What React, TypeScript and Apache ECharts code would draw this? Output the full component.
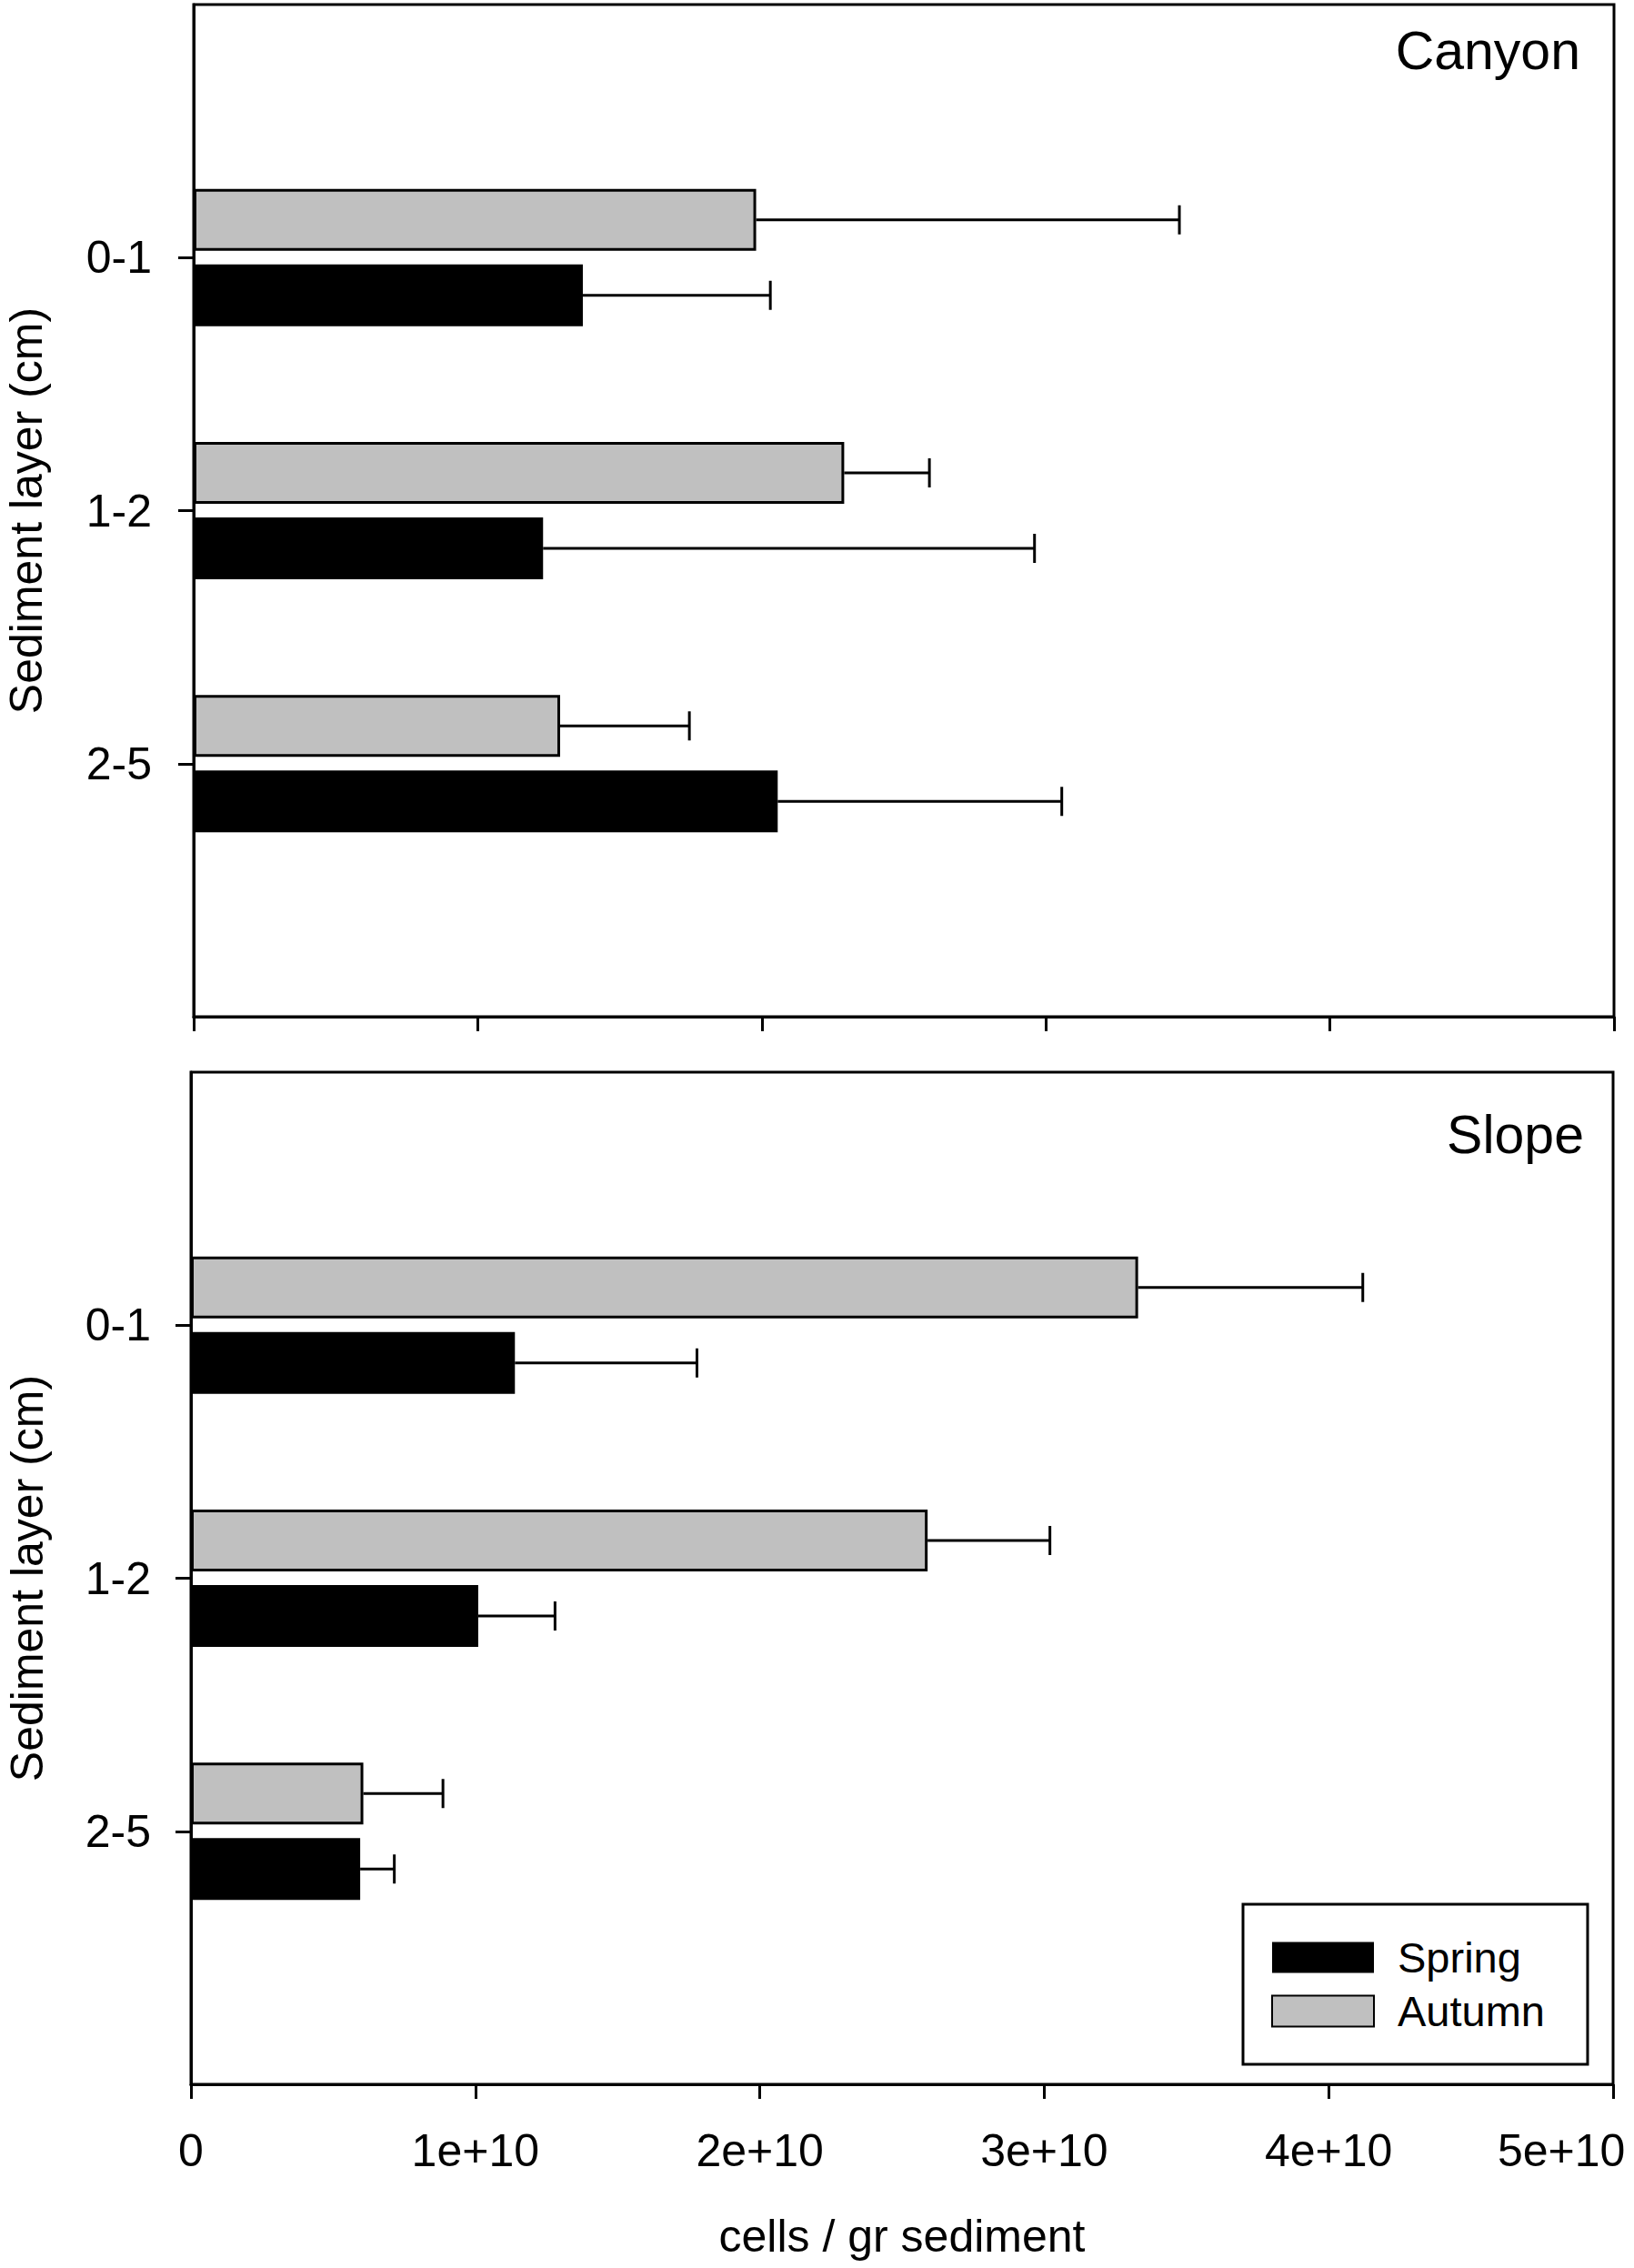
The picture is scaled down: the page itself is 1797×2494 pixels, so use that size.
import React, { useEffect, useRef } from "react";
import * as echarts from "echarts";

const categories = ["0-1", "1-2", "2-5"];
const canyonSpring = [1.37e10, 1.23e10, 2.056e10];
const canyonSpringSD = [0.66e10, 1.73e10, 1.0e10];
const canyonAutumn = [1.98e10, 2.29e10, 1.29e10];
const canyonAutumnSD = [1.49e10, 0.3e10, 0.455e10];
const slopeSpring = [1.139e10, 1.01e10, 0.595e10];
const slopeSpringSD = [0.64e10, 0.27e10, 0.12e10];
const slopeAutumn = [3.33e10, 2.59e10, 0.606e10];
const slopeAutumnSD = [0.79e10, 0.43e10, 0.28e10];
const xTicks = [0, 1e10, 2e10, 3e10, 4e10, 5e10];
const xTickLabels = ["0", "1e+10", "2e+10", "3e+10", "4e+10", "5e+10"];

const FONT = "'Liberation Sans', Arial, Helvetica, sans-serif";
const axisCats = ["", ...categories, ""];

function barSeries(name: string, vals: number[], color: string, gi: number, border: boolean) {
  return {
    type: "bar",
    name,
    xAxisIndex: gi,
    yAxisIndex: gi,
    barWidth: 68,
    barGap: "22%",
    data: vals.map((v, i) => [v, i + 1]),
    itemStyle: {
      color,
      borderColor: "#000",
      borderWidth: border ? 3 : 0,
    },
    silent: true,
  };
}

function errSeries(name: string, vals: number[], sds: number[], offset: number, gi: number) {
  return {
    type: "custom",
    name,
    xAxisIndex: gi,
    yAxisIndex: gi,
    silent: true,
    z: 3,
    encode: { x: [0, 2], y: 1 },
    data: vals.map((v, i) => [v, i + 1, v + sds[i]]),
    renderItem: (params: any, api: any) => {
      const s = api.coord([api.value(0), api.value(1)]);
      const e = api.coord([api.value(2), api.value(1)]);
      const y = s[1] + offset;
      return {
        type: "group",
        children: [
          { type: "line", shape: { x1: s[0], y1: y, x2: e[0], y2: y }, style: { stroke: "#000", lineWidth: 3 } },
          { type: "line", shape: { x1: e[0], y1: y - 16, x2: e[0], y2: y + 16 }, style: { stroke: "#000", lineWidth: 3 } },
        ],
      };
    },
  };
}

function yAxis(gi: number, margin: number, nameGap: number) {
  return {
    type: "category",
    gridIndex: gi,
    data: axisCats,
    inverse: true,
    boundaryGap: false,
    name: "Sediment layer (cm)",
    nameLocation: "middle",
    nameGap,
    nameTextStyle: { fontFamily: FONT, fontSize: 50, color: "#000" },
    axisLine: { show: true, lineStyle: { color: "#000", width: 3 } },
    axisTick: {
      show: true,
      length: 17,
      interval: (i: number, v: string) => v !== "",
      lineStyle: { color: "#000", width: 3 },
    },
    axisLabel: {
      interval: (i: number, v: string) => v !== "",
      fontFamily: FONT,
      fontSize: 50,
      color: "#000",
      margin,
    },
    splitLine: { show: false },
  };
}

function xAxis(gi: number, showLabels: boolean) {
  const maxV = xTicks[xTicks.length - 1];
  return {
    type: "value",
    gridIndex: gi,
    min: xTicks[0],
    max: maxV,
    interval: xTicks[1] - xTicks[0],
    name: showLabels ? "cells / gr sediment" : "",
    nameLocation: "middle",
    nameGap: 142,
    nameTextStyle: { fontFamily: FONT, fontSize: 50, color: "#000" },
    axisLine: { show: true, lineStyle: { color: "#000", width: 3 } },
    axisTick: { show: true, length: 16, lineStyle: { color: "#000", width: 3 } },
    axisLabel: {
      show: showLabels,
      fontFamily: FONT,
      fontSize: 50,
      color: "#000",
      margin: 48,
      showMinLabel: true,
      showMaxLabel: true,
      alignMaxLabel: "right",
      formatter: (v: number) => {
        const idx = xTicks.indexOf(v);
        if (idx < 0) return "";
        return v === maxV ? `{last|${xTickLabels[idx]}}` : xTickLabels[idx];
      },
      rich: {
        last: { fontFamily: FONT, fontSize: 50, color: "#000", width: 127, align: "left" },
      },
    },
    splitLine: { show: false },
  };
}

export default function App() {
  const ref = useRef<HTMLDivElement>(null);
  useEffect(() => {
    document.body.style.margin = "0";
    if (!ref.current) return;
    const chart = echarts.init(ref.current, null, { renderer: "svg" });
    chart.setOption({
      animation: false,
      backgroundColor: "#fff",
      title: [
        { text: "Canyon", right: 59, top: 26, padding: 0, textStyle: { fontFamily: FONT, fontSize: 59, fontWeight: "normal", color: "#000" } },
        { text: "Slope", right: 55, top: 1218, padding: 0, textStyle: { fontFamily: FONT, fontSize: 59, fontWeight: "normal", color: "#000" } },
      ],
      grid: [
        { left: 213, top: 5, width: 1562, height: 1113, show: true, borderColor: "#000", borderWidth: 3, containLabel: false, outerBoundsMode: "none" },
        { left: 210, top: 1179, width: 1564, height: 1113, show: true, borderColor: "#000", borderWidth: 3, containLabel: false, outerBoundsMode: "none" },
      ],
      xAxis: [xAxis(0, false), xAxis(1, true)],
      yAxis: [yAxis(0, 46, 159), yAxis(1, 44, 155)],
      legend: {
        data: ["Spring", "Autumn"],
        orient: "vertical",
        left: 1367,
        top: 2094,
        padding: [35, 47, 35, 31],
        borderColor: "#000",
        borderWidth: 3,
        backgroundColor: "#fff",
        itemWidth: 112,
        itemHeight: 34,
        itemGap: 12,
        icon: "rect",
        selectedMode: false,
        textStyle: { fontFamily: FONT, fontSize: 47, color: "#000", padding: [0, 0, 0, 21] },
      },
      series: [
        barSeries("Autumn", canyonAutumn, "#c0c0c0", 0, true),
        barSeries("Spring", canyonSpring, "#000000", 0, false),
        errSeries("Autumn SD", canyonAutumn, canyonAutumnSD, -41.5, 0),
        errSeries("Spring SD", canyonSpring, canyonSpringSD, 41.5, 0),
        barSeries("Autumn", slopeAutumn, "#c0c0c0", 1, true),
        barSeries("Spring", slopeSpring, "#000000", 1, false),
        errSeries("Autumn SD", slopeAutumn, slopeAutumnSD, -41.5, 1),
        errSeries("Spring SD", slopeSpring, slopeSpringSD, 41.5, 1),
      ],
    });
    return () => chart.dispose();
  }, []);
  return <div ref={ref} style={{ width: 1797, height: 2494 }} />;
}
